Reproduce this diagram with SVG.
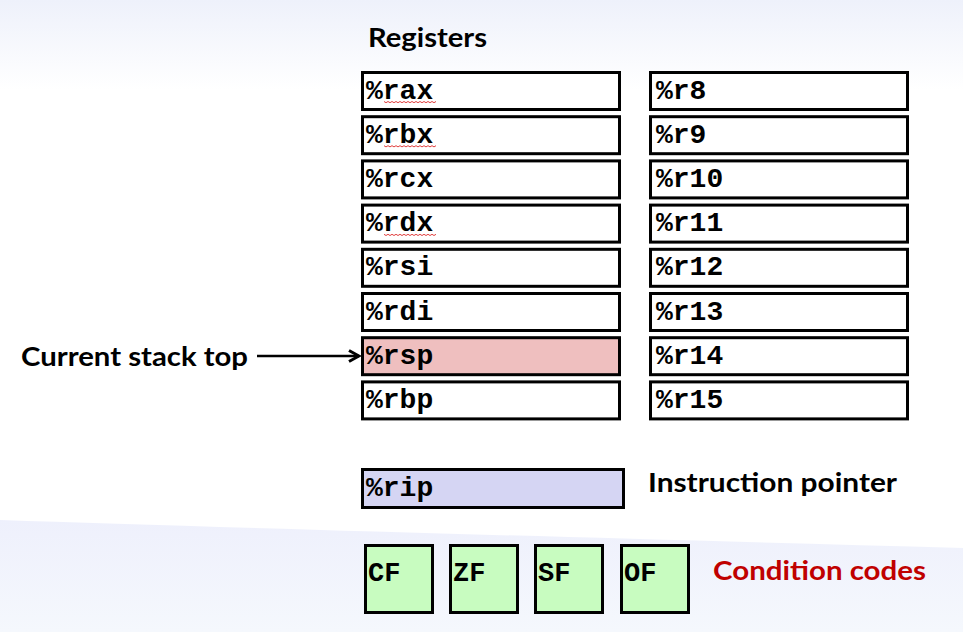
<svg xmlns="http://www.w3.org/2000/svg" width="963" height="632" viewBox="0 0 963 632">
<defs>
<linearGradient id="topbg" x1="0" y1="0" x2="0" y2="1">
<stop offset="0" stop-color="#eef1fb"/>
<stop offset="1" stop-color="#ffffff"/>
</linearGradient>
<linearGradient id="botbg" x1="0" y1="0" x2="0" y2="1">
<stop offset="0" stop-color="#eef0fc"/>
<stop offset="1" stop-color="#f5f8fd"/>
</linearGradient>
<marker id="arr" viewBox="0 0 14 14" refX="12" refY="7" markerWidth="14" markerHeight="14" markerUnits="userSpaceOnUse" orient="auto">
<path d="M2,1.5 L12,7 L2,12.5" fill="none" stroke="#000" stroke-width="3"/>
</marker>
<path id="squig" d="M0,0 l2,1.2 l2,-1.2 l2,1.2 l2,-1.2 l2,1.2 l2,-1.2 l2,1.2 l2,-1.2 l2,1.2 l2,-1.2 l2,1.2 l2,-1.2 l2,1.2 l2,-1.2 l2,1.2 l2,-1.2 l2,1.2 l2,-1.2 l2,1.2 l2,-1.2 l2,1.2 l2,-1.2 l2,1.2 l2,-1.2 l2,1.2 l2,-1.2" fill="none" stroke="#e04040" stroke-width="1"/>
<style>
.reg{fill:#ffffff;stroke:#000;stroke-width:3}
.rsp{fill:#efbfbf;stroke:#000;stroke-width:3}
.rip{fill:#d5d5f3;stroke:#000;stroke-width:3}
.flag{fill:#c8fcc0;stroke:#000;stroke-width:3}
.mono{font-family:"Liberation Mono","Courier New",monospace;font-weight:bold;font-size:28px;fill:#000}
.fl{font-size:27px}
.lbl{font-family:Lato,"Open Sans","Liberation Sans",sans-serif;font-weight:bold;font-size:26px;fill:#000}
.red{fill:#c00000}
</style>
</defs>
<rect x="0" y="0" width="963" height="632" fill="#ffffff"/>
<rect x="0" y="0" width="963" height="90" fill="url(#topbg)"/>
<path d="M0,520 Q300,530 963,548 L963,632 L0,632 Z" fill="url(#botbg)"/>

<text class="lbl" x="368" y="47" textLength="119" lengthAdjust="spacingAndGlyphs">Registers</text>

<g id="reg-rax"><rect class="reg" x="362.5" y="72.5" width="257" height="37"/><text class="mono" x="366" y="98.5">%rax</text><use href="#squig" x="384" y="101.5"/></g>
<g id="reg-rbx"><rect class="reg" x="362.5" y="116.7" width="257" height="37"/><text class="mono" x="366" y="142.7">%rbx</text><use href="#squig" x="384" y="145.7"/></g>
<g id="reg-rcx"><rect class="reg" x="362.5" y="160.9" width="257" height="37"/><text class="mono" x="366" y="186.9">%rcx</text></g>
<g id="reg-rdx"><rect class="reg" x="362.5" y="205.1" width="257" height="37"/><text class="mono" x="366" y="231.1">%rdx</text><use href="#squig" x="384" y="234.3"/></g>
<g id="reg-rsi"><rect class="reg" x="362.5" y="249.3" width="257" height="37"/><text class="mono" x="366" y="275.3">%rsi</text></g>
<g id="reg-rdi"><rect class="reg" x="362.5" y="293.5" width="257" height="37"/><text class="mono" x="366" y="319.5">%rdi</text></g>
<g id="reg-rsp"><rect class="rsp" x="362.5" y="337.7" width="257" height="37"/><text class="mono" x="366" y="363.7">%rsp</text></g>
<g id="reg-rbp"><rect class="reg" x="362.5" y="381.9" width="257" height="37"/><text class="mono" x="366" y="407.9">%rbp</text></g>

<g id="reg-r8"><rect class="reg" x="650.5" y="72.5" width="257" height="37"/><text class="mono" x="656" y="98.5">%r8</text></g>
<g id="reg-r9"><rect class="reg" x="650.5" y="116.7" width="257" height="37"/><text class="mono" x="656" y="142.7">%r9</text></g>
<g id="reg-r10"><rect class="reg" x="650.5" y="160.9" width="257" height="37"/><text class="mono" x="656" y="186.9">%r10</text></g>
<g id="reg-r11"><rect class="reg" x="650.5" y="205.1" width="257" height="37"/><text class="mono" x="656" y="231.1">%r11</text></g>
<g id="reg-r12"><rect class="reg" x="650.5" y="249.3" width="257" height="37"/><text class="mono" x="656" y="275.3">%r12</text></g>
<g id="reg-r13"><rect class="reg" x="650.5" y="293.5" width="257" height="37"/><text class="mono" x="656" y="319.5">%r13</text></g>
<g id="reg-r14"><rect class="reg" x="650.5" y="337.7" width="257" height="37"/><text class="mono" x="656" y="363.7">%r14</text></g>
<g id="reg-r15"><rect class="reg" x="650.5" y="381.9" width="257" height="37"/><text class="mono" x="656" y="407.9">%r15</text></g>

<g id="label-stack"><text class="lbl" x="21" y="366" textLength="227" lengthAdjust="spacingAndGlyphs">Current stack top</text></g>

<g id="reg-rip"><rect class="rip" x="362.5" y="469.5" width="261" height="38"/><text class="mono" x="366" y="496">%rip</text></g>
<g id="label-ip"><text class="lbl" x="648" y="492" textLength="249" lengthAdjust="spacingAndGlyphs">Instruction pointer</text></g>

<g id="flag-cf"><rect class="flag" x="365.5" y="545.5" width="67" height="67"/><text class="mono fl" x="368" y="581">CF</text></g>
<g id="flag-zf"><rect class="flag" x="450.5" y="545.5" width="67" height="67"/><text class="mono fl" x="453" y="581">ZF</text></g>
<g id="flag-sf"><rect class="flag" x="535.5" y="545.5" width="67" height="67"/><text class="mono fl" x="538" y="581">SF</text></g>
<g id="flag-of"><rect class="flag" x="621.5" y="545.5" width="67" height="67"/><text class="mono fl" x="624" y="581">OF</text></g>
<g id="label-cc"><text class="lbl red" x="713" y="580" textLength="213" lengthAdjust="spacingAndGlyphs">Condition codes</text></g>

<g id="connectors">
<line x1="257" y1="356" x2="359" y2="356" stroke="#000" stroke-width="2.5" marker-end="url(#arr)"/>
</g>
</svg>
